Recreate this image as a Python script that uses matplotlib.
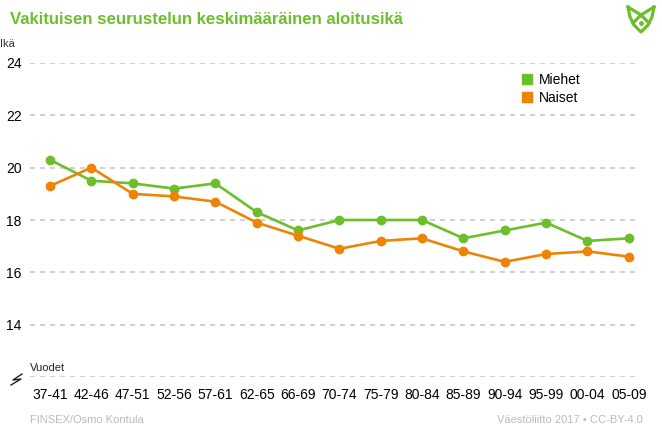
import matplotlib
matplotlib.use("Agg")
import matplotlib.pyplot as plt
from matplotlib.lines import Line2D
import numpy as np

plt.rcParams['font.family'] = ['Liberation Sans', 'DejaVu Sans']

# data
periods = ["37-41", "42-46", "47-51", "52-56", "57-61", "62-65", "66-69", "70-74",
           "75-79", "80-84", "85-89", "90-94", "95-99", "00-04", "05-09"]
miehet = [20.3, 19.5, 19.4, 19.2, 19.4, 18.3, 17.6, 18.0, 18.0, 18.0, 17.3, 17.6, 17.9, 17.2, 17.3]
naiset = [19.3, 20.0, 19.0, 18.9, 18.7, 17.9, 17.4, 16.9, 17.2, 17.3, 16.8, 16.4, 16.7, 16.8, 16.6]
yticks = [14, 16, 18, 20, 22, 24]

GREEN = '#6cbf2b'
ORANGE = '#ee8406'
GRID = '#c8c8c8'

W, H = 662, 441


def fx(px):
    return px / W


def fy(py):
    return 1 - py / H


fig = plt.figure(figsize=(6.62, 4.41), dpi=100)
ax = fig.add_axes([fx(30), fy(377), 610 / W, 314 / H])

x = np.arange(len(periods))
ax.plot(x, miehet, color=GREEN, lw=1.9, marker='o', ms=6, label='Miehet', zorder=3)
ax.plot(x, naiset, color=ORANGE, lw=1.9, marker='o', ms=6, label='Naiset', zorder=3)

ax.set_xlim(-0.484, 14.27)
ax.set_ylim(12, 24)
for yv in yticks + [12]:
    ax.axhline(yv, color=GRID, lw=1.2, ls=(0, (3, 3)), zorder=1)

ax.set_yticks(yticks)
ax.set_yticklabels([str(v) for v in yticks], fontsize=10)
ax.set_xticks(x)
ax.set_xticklabels(periods, fontsize=10)
ax.tick_params(length=0, pad=6)
ax.tick_params(axis='x', pad=8)
for s in ax.spines.values():
    s.set_visible(False)

# legend with squares
handles = [Line2D([], [], marker='s', ls='', color=GREEN, ms=6.8),
           Line2D([], [], marker='s', ls='', color=ORANGE, ms=6.8)]
ax.legend(handles, ['Miehet', 'Naiset'], loc='upper left', bbox_to_anchor=(0.783, 1.008),
          frameon=False, fontsize=10, handletextpad=0.35, labelspacing=0.3, handlelength=1)

# titles and texts
fig.text(fx(10), fy(19), 'Vakituisen seurustelun keskimääräinen aloitusikä',
         color=GREEN, fontsize=12.1, fontweight='bold', va='center', ha='left')
fig.text(0, fy(44), 'Ikä', fontsize=8, va='center', ha='left', color='#333333')
fig.text(fx(30), fy(368), 'Vuodet', fontsize=8, va='center', ha='left', color='#222222')
fig.text(fx(30), fy(420), 'FINSEX/Osmo Kontula', fontsize=8, color='#bbbbbb',
         va='center', ha='left')
fig.text(fx(643), fy(420), 'Väestöliitto 2017 • CC-BY-4.0', fontsize=8, color='#bbbbbb',
         va='center', ha='right')

# axis break symbol
bx = [22, 13, 21, 11]
by = [374, 380, 379, 385]
fig.add_artist(Line2D([fx(v) for v in bx], [fy(v) for v in by], color='#222222', lw=1))

# simple logo
ox = [628, 630, 634, 641, 648, 652, 654]
oy = [7, 17, 25, 32, 25, 17, 7]
fig.add_artist(Line2D([fx(v) for v in ox], [fy(v) for v in oy], color=GREEN, lw=2.3))
fig.add_artist(Line2D([fx(628), fx(641), fx(649)], [fy(7), fy(15), fy(23)], color=GREEN, lw=2.3))
fig.add_artist(Line2D([fx(654), fx(641), fx(633)], [fy(7), fy(15), fy(23)], color=GREEN, lw=2.3))
fig.add_artist(Line2D([fx(641)], [fy(23)], marker='o', ms=2.5, color=GREEN))

fig.savefig('out.png', dpi=100)
